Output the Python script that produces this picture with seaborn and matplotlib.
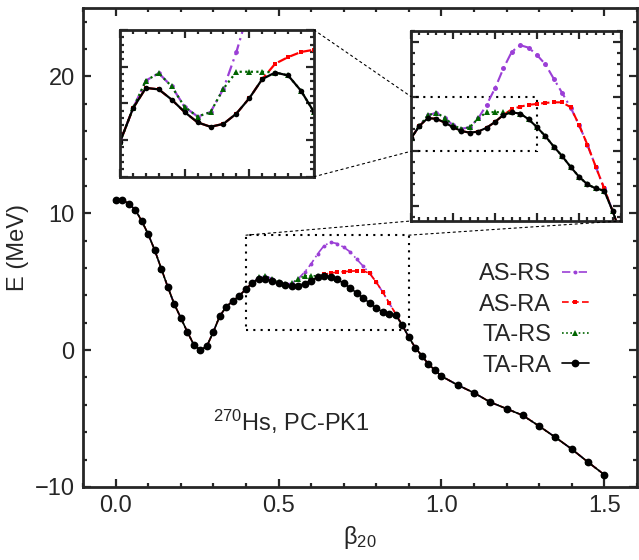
import numpy as np
import matplotlib
matplotlib.use("Agg")
import matplotlib.pyplot as plt
import seaborn as sns
from matplotlib.patches import Rectangle, ConnectionPatch
from matplotlib.ticker import MultipleLocator

# deformation grid and TA-RA energies (MeV)
beta = [0.00, 0.02, 0.04, 0.06, 0.08, 0.10, 0.12, 0.14, 0.16, 0.18,
        0.20, 0.22, 0.24, 0.26, 0.28, 0.30, 0.32, 0.34, 0.36, 0.38,
        0.40, 0.42, 0.44, 0.46, 0.48, 0.50, 0.52, 0.54, 0.56, 0.58,
        0.60, 0.62, 0.64, 0.66, 0.68, 0.70, 0.72, 0.74, 0.76, 0.78,
        0.80, 0.82, 0.84, 0.86, 0.88, 0.90, 0.92, 0.94, 0.96, 0.98,
        1.00, 1.05, 1.10, 1.15, 1.20, 1.25, 1.30, 1.35, 1.40, 1.45, 1.50]
e_ta_ra = [11.0, 11.0, 10.7, 10.27, 9.44, 8.47, 7.30, 5.96, 4.62, 3.36,
           2.36, 1.34, 0.39, 0.0, 0.29, 1.34, 2.51, 3.17, 3.60, 3.97,
           4.47, 4.93, 5.21, 5.19, 5.05, 4.88, 4.74, 4.68, 4.72, 4.86,
           5.07, 5.33, 5.42, 5.38, 5.17, 4.88, 4.55, 4.17, 3.82, 3.43,
           3.07, 2.79, 2.64, 2.56, 1.82, 0.95, 0.17, -0.41, -1.02, -1.46,
           -1.90, -2.55, -3.12, -3.80, -4.28, -4.77, -5.55, -6.37, -7.23, -8.18, -9.10]

# where the other curves leave TA-RA
beta_ta_rs = [0.42, 0.44, 0.46, 0.48, 0.50, 0.52, 0.54, 0.56, 0.58, 0.60, 0.62]
e_ta_rs = [4.93, 5.31, 5.41, 5.23, 4.95, 4.82, 4.88, 5.20, 5.43, 5.43, 5.43]

beta_as_ra = [0.64, 0.66, 0.68, 0.70, 0.72, 0.74, 0.76, 0.78, 0.80, 0.82, 0.84, 0.86]
e_as_ra = [5.54, 5.63, 5.70, 5.73, 5.77, 5.79, 5.79, 5.61, 4.97, 4.24, 3.43, 2.64]

beta_as_rs = [0.42, 0.44, 0.46, 0.48, 0.50, 0.52, 0.54, 0.56, 0.58, 0.60, 0.62,
              0.64, 0.66, 0.68, 0.70, 0.72, 0.74, 0.76, 0.78, 0.80, 0.82, 0.84, 0.86]
e_as_rs = [4.93, 5.31, 5.41, 5.23, 4.95, 4.82, 4.88, 5.20, 5.70, 6.30, 7.03,
           7.64, 7.88, 7.79, 7.52, 7.18, 6.65, 6.13, 5.60, 4.97, 4.24, 3.43, 2.64]


def merge(bs, es):
    out = list(e_ta_ra)
    for b, e in zip(bs, es):
        out[beta.index(b)] = e
    return out


# name, values, colour, dash, marker, marker scale (main, inset)
curves = [
    ("AS-RS", merge(beta_as_rs, e_as_rs), "#9b3fd6", (0, (5, 2, 1, 2)), "o", 0.5, 0.85),
    ("AS-RA", merge(beta_as_ra, e_as_ra), "#ff0000", (0, (4, 2)), "s", 0.5, 0.8),
    ("TA-RS", merge(beta_ta_rs, e_ta_rs), "#006400", (0, (1, 1.5)), "^", 0.65, 1.0),
    ("TA-RA", e_ta_ra, "black", "-", "o", 1.0, 1.0),
]

sns.set_theme(style="ticks")
plt.rcParams["font.family"] = ["Liberation Sans", "DejaVu Sans"]
plt.rcParams["mathtext.fontset"] = "custom"
plt.rcParams["mathtext.rm"] = "Liberation Sans"
plt.rcParams["mathtext.it"] = "Liberation Sans:italic"

fig = plt.figure(figsize=(6.39, 5.6), dpi=100)
ax = fig.add_axes([0.130, 0.1304, 0.8666, 0.8553])
ax_l = fig.add_axes([0.1878, 0.6845, 0.3036, 0.2620])
ax_r = fig.add_axes([0.6432, 0.6054, 0.3286, 0.3393])


def draw(a, ms, lw, inset):
    for name, e, col, ls, mk, s_main, s_in in curves:
        scale = s_in if inset else s_main
        sns.lineplot(x=beta, y=e, ax=a, color=col, linestyle=ls, marker=mk,
                     markersize=ms * scale, markeredgewidth=0, linewidth=lw,
                     label=name, sort=False, estimator=None, errorbar=None)


def style(a, xmaj, xmin, ymaj, ymin, labels=True):
    for s in a.spines.values():
        s.set_linewidth(2.0)
    a.xaxis.set_major_locator(MultipleLocator(xmaj))
    a.xaxis.set_minor_locator(MultipleLocator(xmin))
    a.yaxis.set_major_locator(MultipleLocator(ymaj))
    a.yaxis.set_minor_locator(MultipleLocator(ymin))
    a.tick_params(which="both", direction="in", top=True, right=True, width=1.6)
    a.tick_params(which="major", length=6)
    a.tick_params(which="minor", length=3)
    if not labels:
        a.set_xticklabels([])
        a.set_yticklabels([])


# main panel
draw(ax, 5.6, 1.2, False)
ax.set_xlim(-0.1, 1.6)
ax.set_ylim(-10, 25)
style(ax, 0.5, 0.1, 10, 2)
ax.tick_params(labelsize=17, pad=6)
ax.xaxis.set_major_formatter(matplotlib.ticker.FormatStrFormatter("%.1f"))
ax.set_yticks([-10, 0, 10, 20])
ax.set_yticklabels(["\u221210", "0", "10", "20"])
ax.set_xlabel("\u03b2$_{20}$", fontsize=17, labelpad=5)
ax.set_ylabel("E (MeV)", fontsize=17, labelpad=4)
ax.text(0.30, -5.9, "$^{270}$Hs, PC-PK1", fontsize=17)

h, lab = ax.get_legend_handles_labels()
ax.legend(h, lab, loc="upper right", bbox_to_anchor=(0.935, 0.492), frameon=False,
          fontsize=17, markerfirst=False, handlelength=1.15, handletextpad=0.45,
          labelspacing=0.36, borderpad=0)

# zoom box in main panel
ax.add_patch(Rectangle((0.4, 1.45), 0.5, 8.4 - 1.45, fill=False, ec="black",
                       lw=1.5, ls=(0, (1, 2.5))))

# right inset
draw(ax_r, 4.2, 1.5, True)
ax_r.set_xlim(0.4, 0.9)
ax_r.set_ylim(1.45, 8.4)
style(ax_r, 0.1, 0.02, 2, 0.4, labels=False)
ax_r.set_xlabel("")
ax_r.set_ylabel("")
ax_r.get_legend().remove()
ax_r.add_patch(Rectangle((0.4, 4.0), 0.3, 2.0, fill=False, ec="black",
                         lw=1.5, ls=(0, (1, 2.5))))

# left inset
draw(ax_l, 4.0, 1.6, True)
ax_l.set_xlim(0.4, 0.7)
ax_l.set_ylim(4.0, 6.0)
style(ax_l, 0.1, 0.02, 0.5, 0.1, labels=False)
ax_l.set_xlabel("")
ax_l.set_ylabel("")
ax_l.get_legend().remove()

# connector lines
cstyle = dict(color="black", lw=0.8, ls=(0, (2, 3)))
for xa, xb in [(0.4, 0.4), (0.9, 0.9)]:
    fig.add_artist(ConnectionPatch((xa, 8.4), (xb, 1.45), "data", "data",
                                   axesA=ax, axesB=ax_r, **cstyle))
for ya in [6.0, 4.0]:
    fig.add_artist(ConnectionPatch((0.7, ya), (0.4, ya), "data", "data",
                                   axesA=ax_l, axesB=ax_r, **cstyle))

fig.savefig("out.png", dpi=100)
